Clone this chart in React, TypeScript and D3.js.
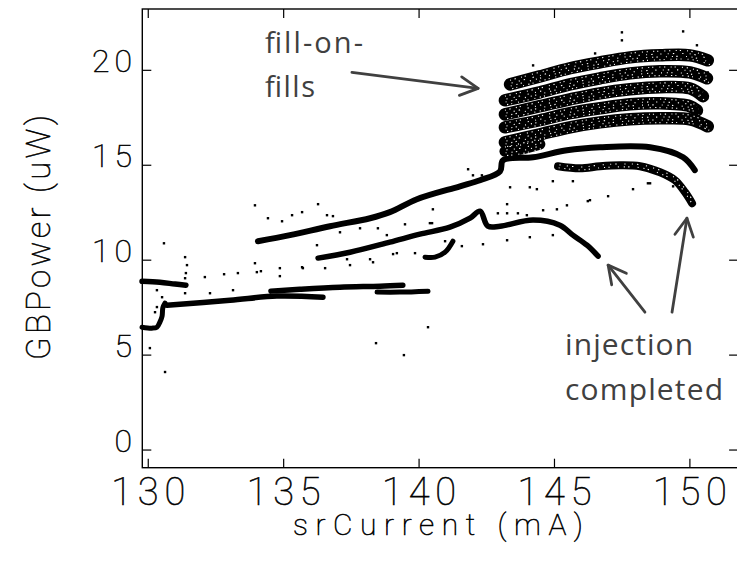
import React from "react";
import * as d3 from "d3";

// ---- axis ticks ----
const xTickValues = [130, 135, 140, 145, 150];
const yTickValues = [0, 5, 10, 15, 20];
const xDomain = [129.78, 151.78];
const yDomain = [-0.93, 23.23];

// ---- dense traces (srCurrent mA, GBPower uW) ----
const traceLeftTop = [[129.77, 8.89], [130.43, 8.84], [130.99, 8.74], [131.39, 8.68]];
const traceLeftLow = [[129.77, 6.47], [130.14, 6.42], [130.32, 6.47], [130.43, 6.74], [130.51, 7.05], [130.54, 7.5], [130.62, 7.74]];
const traceA1 = [[130.69, 7.63], [133.02, 7.89], [134.75, 8.11], [136.45, 8.05]];
const traceA2 = [[134.53, 8.37], [135.6, 8.47], [137.08, 8.58], [138.56, 8.63], [139.4, 8.68]];
const traceA3 = [[138.45, 8.32], [139.29, 8.32], [140.33, 8.37]];
const traceB = [[134.05, 11.0], [135.23, 11.32], [136.71, 11.79], [138.19, 12.21], [138.92, 12.53], [139.92, 13.21], [141.51, 13.89], [142.25, 14.21], [142.99, 14.68], [143.1, 15.26], [144.21, 15.42], [145.46, 15.79], [146.68, 15.95], [148.53, 15.95], [149.75, 15.42], [150.18, 14.74]];
const traceC = [[136.27, 10.11], [137.45, 10.42], [138.92, 10.95], [140.03, 11.37], [141.14, 11.74], [141.88, 12.21], [142.25, 12.58], [142.54, 11.79], [142.99, 11.79], [144.21, 12.11], [145.2, 11.84], [145.68, 11.32], [146.2, 10.79], [146.61, 10.21]];
const traceD = [[140.22, 10.16], [140.59, 10.16], [140.96, 10.42], [141.25, 11.0]];
const traceFLow = [[145.13, 14.95], [145.94, 14.84], [146.68, 14.95], [147.42, 15.0], [148.16, 14.95], [148.9, 14.63], [149.45, 14.21], [149.82, 13.58], [150.08, 13.0]];
const traceU1 = [[143.36, 19.26], [144.46, 19.68], [145.57, 20.11], [146.68, 20.42], [147.79, 20.68], [148.9, 20.79], [150.0, 20.79], [150.66, 20.53]];
const traceU2 = [[143.17, 18.42], [144.46, 18.84], [145.57, 19.26], [146.68, 19.58], [147.79, 19.84], [148.9, 19.95], [150.0, 19.89], [150.63, 19.58]];
const traceU3 = [[143.17, 17.68], [144.46, 18.11], [145.57, 18.47], [146.68, 18.79], [147.79, 19.0], [148.9, 19.11], [150.0, 19.05], [150.48, 18.63]];
const traceU4 = [[143.17, 17.0], [144.46, 17.37], [145.57, 17.74], [146.68, 18.0], [147.79, 18.21], [148.9, 18.26], [150.0, 18.11], [150.26, 17.89]];
const traceU5 = [[143.17, 16.21], [144.46, 16.63], [145.57, 17.0], [146.68, 17.26], [147.79, 17.42], [148.9, 17.47], [150.0, 17.42], [150.66, 17.05]];
const traceU6 = [[143.17, 15.74], [143.73, 15.84], [144.46, 16.11]];

// ---- isolated points ----
const strayPoints = [
  [130.58, 10.89], [130.62, 4.11], [130.06, 5.37],
  [131.36, 10.16], [131.43, 9.74], [131.39, 9.32], [131.36, 9.05], [131.36, 8.26],
  [130.32, 8.42], [130.51, 8.05], [130.62, 7.79], [130.32, 7.53], [130.25, 7.26],
  [132.09, 9.11], [132.8, 9.26], [133.31, 9.32], [133.94, 9.84], [134.01, 9.37], [134.16, 9.42],
  [134.86, 9.58], [134.86, 9.16], [135.68, 9.63], [135.71, 9.58], [136.53, 9.58],
  [132.28, 8.26], [133.13, 8.42],
  [133.94, 12.89], [136.27, 12.95], [134.42, 12.21], [134.94, 12.05], [135.31, 12.37], [135.68, 12.53],
  [136.6, 12.37], [136.82, 12.32], [137.08, 11.47], [137.82, 11.68], [138.48, 11.68], [138.81, 11.32],
  [139.48, 11.89], [140.4, 11.95], [136.23, 10.79], [139.18, 10.37], [139.04, 10.32], [139.85, 10.37],
  [138.19, 10.05], [138.3, 9.89], [137.34, 10.05], [137.45, 9.74],
  [140.33, 6.47], [138.41, 5.63], [139.44, 5.0],
  [141.81, 14.79], [141.99, 14.47], [142.32, 14.47], [143.36, 13.84], [144.09, 13.84], [144.35, 13.74],
  [144.94, 14.16], [145.68, 14.16], [146.23, 13.11], [146.98, 13.37], [147.9, 13.74], [148.45, 14.05],
  [149.38, 13.89], [145.46, 12.89], [145.09, 12.68], [144.58, 12.63], [143.25, 12.95],
  [142.91, 12.47], [143.25, 12.47], [143.65, 12.47], [143.98, 12.37],
  [144.94, 11.32], [144.09, 11.21], [143.25, 11.05], [142.36, 10.84], [141.58, 10.74],
  [140.51, 12.68], [140.48, 11.95], [140.96, 11.0],
  [147.49, 22.0], [147.49, 21.58], [149.75, 22.05], [144.21, 20.26], [145.2, 20.11], [146.5, 20.89],
  [150.26, 21.32], [150.66, 19.89], [146.31, 13.16], [148.53, 14.05],
];

// ---- annotation texts ----
const fillLabelLines = ["fill-on-", "fills"];
const injLabelLines = ["injection", "completed"];

const traces = [
  { pts: traceLeftTop, w: 5.5, speckle: false },
  { pts: traceLeftLow, w: 5, speckle: false },
  { pts: traceA1, w: 5.5, speckle: false },
  { pts: traceA2, w: 5.5, speckle: false },
  { pts: traceA3, w: 5, speckle: false },
  { pts: traceB, w: 6, speckle: false },
  { pts: traceC, w: 5.5, speckle: false },
  { pts: traceD, w: 5, speckle: false },
  { pts: traceFLow, w: 8, speckle: true },
  { pts: traceU1, w: 12.5, speckle: true },
  { pts: traceU2, w: 12.5, speckle: true },
  { pts: traceU3, w: 12.5, speckle: true },
  { pts: traceU4, w: 12.5, speckle: true },
  { pts: traceU5, w: 12.5, speckle: true },
  { pts: traceU6, w: 11, speckle: true },
];

// speckle overlay styles (offset, dash pattern)
const speckleStyles = [
  { dy: -4.2, dx: 0, dash: "1 3.7 1.3 5.3 1 2.9 1.2 6.1" },
  { dy: -1.3, dx: 1.5, dash: "1.2 6.3 1 4.1 1.4 7.7" },
  { dy: 1.6, dx: 0.7, dash: "1 4.9 1.1 3.3 1.3 8.2" },
  { dy: 4.3, dx: 2.1, dash: "1.3 3.1 1 5.9 1 4.4" },
];

const tickFont = "Roboto, 'DejaVu Sans', sans-serif";
const annFont = "'Open Sans', 'Liberation Sans', sans-serif";
const annColor = "#404040";

function Arrow({ x1, y1, x2, y2 }: { x1: number; y1: number; x2: number; y2: number }) {
  const ang = Math.atan2(y2 - y1, x2 - x1);
  const L = 20;
  const a = Math.PI / 6.5;
  const p1 = [x2 - L * Math.cos(ang - a), y2 - L * Math.sin(ang - a)];
  const p2 = [x2 - L * Math.cos(ang + a), y2 - L * Math.sin(ang + a)];
  return (
    <g stroke={annColor} strokeWidth={2.8} fill="none" strokeLinecap="round" strokeLinejoin="round">
      <line x1={x1} y1={y1} x2={x2} y2={y2} />
      <polyline points={`${p1[0]},${p1[1]} ${x2},${y2} ${p2[0]},${p2[1]}`} />
    </g>
  );
}

export default function App() {
  const W = 737, H = 563;
  const x = d3.scaleLinear().domain(xDomain).range([142.3, 738.1]);
  const y = d3.scaleLinear().domain(yDomain).range([467.7, 9]);
  const line = d3
    .line<number[]>()
    .x((d) => x(d[0]))
    .y((d) => y(d[1]))
    .curve(d3.curveCatmullRom.alpha(0.5));

  const left = x(xDomain[0]);
  const right = x(xDomain[1]);
  const top = y(yDomain[1]);
  const bottom = y(yDomain[0]);
  const tl = 9;
  const thin = { fontFamily: tickFont, fontWeight: 100, fill: "#000", stroke: "#000", strokeWidth: 0.55 } as const;

  return (
    <svg width={W} height={H} style={{ position: "absolute", left: 0, top: 0, background: "#fff" }}>
      {/* data */}
      <g>
        {traces.map((t, i) => (
          <path key={i} d={line(t.pts) || ""} fill="none" stroke="#000" strokeWidth={t.w} strokeLinecap="round" strokeLinejoin="round" />
        ))}
        {traces.filter((t) => t.speckle).map((t, i) => (
          <g key={"sp" + i} fill="none" stroke="#fff" strokeWidth={1.1}>
            {speckleStyles
              .filter((s) => Math.abs(s.dy) < t.w / 2 - 1)
              .map((s, j) => (
                <path key={j} d={line(t.pts) || ""} transform={`translate(${s.dx},${s.dy})`} strokeDasharray={s.dash} />
              ))}
          </g>
        ))}
        {strayPoints.map((p, i) => (
          <rect key={i} x={x(p[0]) - 1.2} y={y(p[1]) - 1.2} width={2.4} height={2.4} fill="#000" />
        ))}
      </g>

      {/* frame */}
      <rect x={left} y={top} width={right - left} height={bottom - top} fill="none" stroke="#000" strokeWidth={1.4} />
      {xTickValues.map((v) => (
        <g key={"xt" + v}>
          <line x1={x(v)} x2={x(v)} y1={bottom} y2={bottom - tl} stroke="#000" strokeWidth={1.2} />
          <line x1={x(v)} x2={x(v)} y1={top} y2={top + tl} stroke="#000" strokeWidth={1.2} />
          <text x={x(v)} y={505} textAnchor="middle" fontSize={38} textLength={74} lengthAdjust="spacing" {...thin}>
            {String(v)}
          </text>
        </g>
      ))}
      {yTickValues.map((v) => (
        <g key={"yt" + v}>
          <line x1={left} x2={left + tl} y1={y(v)} y2={y(v)} stroke="#000" strokeWidth={1.2} />
          <line x1={right} x2={right - tl} y1={y(v)} y2={y(v)} stroke="#000" strokeWidth={1.2} />
          {String(v).length > 1 ? (
            <text x={132} y={y(v) + 2} textAnchor="end" fontSize={32} textLength={40} lengthAdjust="spacing" {...thin}>
              {String(v)}
            </text>
          ) : (
            <text x={132} y={y(v) + 2} textAnchor="end" fontSize={32} {...thin}>
              {String(v)}
            </text>
          )}
        </g>
      ))}

      {/* axis titles */}
      <text x={438} y={535} textAnchor="middle" fontSize={30} textLength={290} lengthAdjust="spacing" {...thin}>
        srCurrent (mA)
      </text>
      <text transform={`translate(50,237.5) rotate(-90)`} textAnchor="middle" fontSize={33} textLength={245} lengthAdjust="spacing" {...thin}>
        GBPower (uW)
      </text>

      {/* annotations */}
      <text x={x(134.31)} y={y(20.89)} fontFamily={annFont} fontSize={29} fill={annColor} textLength={98} lengthAdjust="spacing">
        {fillLabelLines[0]}
      </text>
      <text x={x(134.31)} y={y(18.58)} fontFamily={annFont} fontSize={29} fill={annColor} textLength={50} lengthAdjust="spacing">
        {fillLabelLines[1]}
      </text>
      <Arrow x1={x(137.52)} y1={y(19.89)} x2={x(142.18)} y2={y(19.05)} />

      <text x={x(145.39)} y={y(5.0)} fontFamily={annFont} fontSize={30} fill={annColor} textLength={128} lengthAdjust="spacing">
        {injLabelLines[0]}
      </text>
      <text x={x(145.39)} y={y(2.63)} fontFamily={annFont} fontSize={30} fill={annColor} textLength={158} lengthAdjust="spacing">
        {injLabelLines[1]}
      </text>
      <Arrow x1={x(148.34)} y1={y(7.26)} x2={x(146.98)} y2={y(9.74)} />
      <Arrow x1={x(149.34)} y1={y(7.26)} x2={x(149.89)} y2={y(12.21)} />
    </svg>
  );
}
